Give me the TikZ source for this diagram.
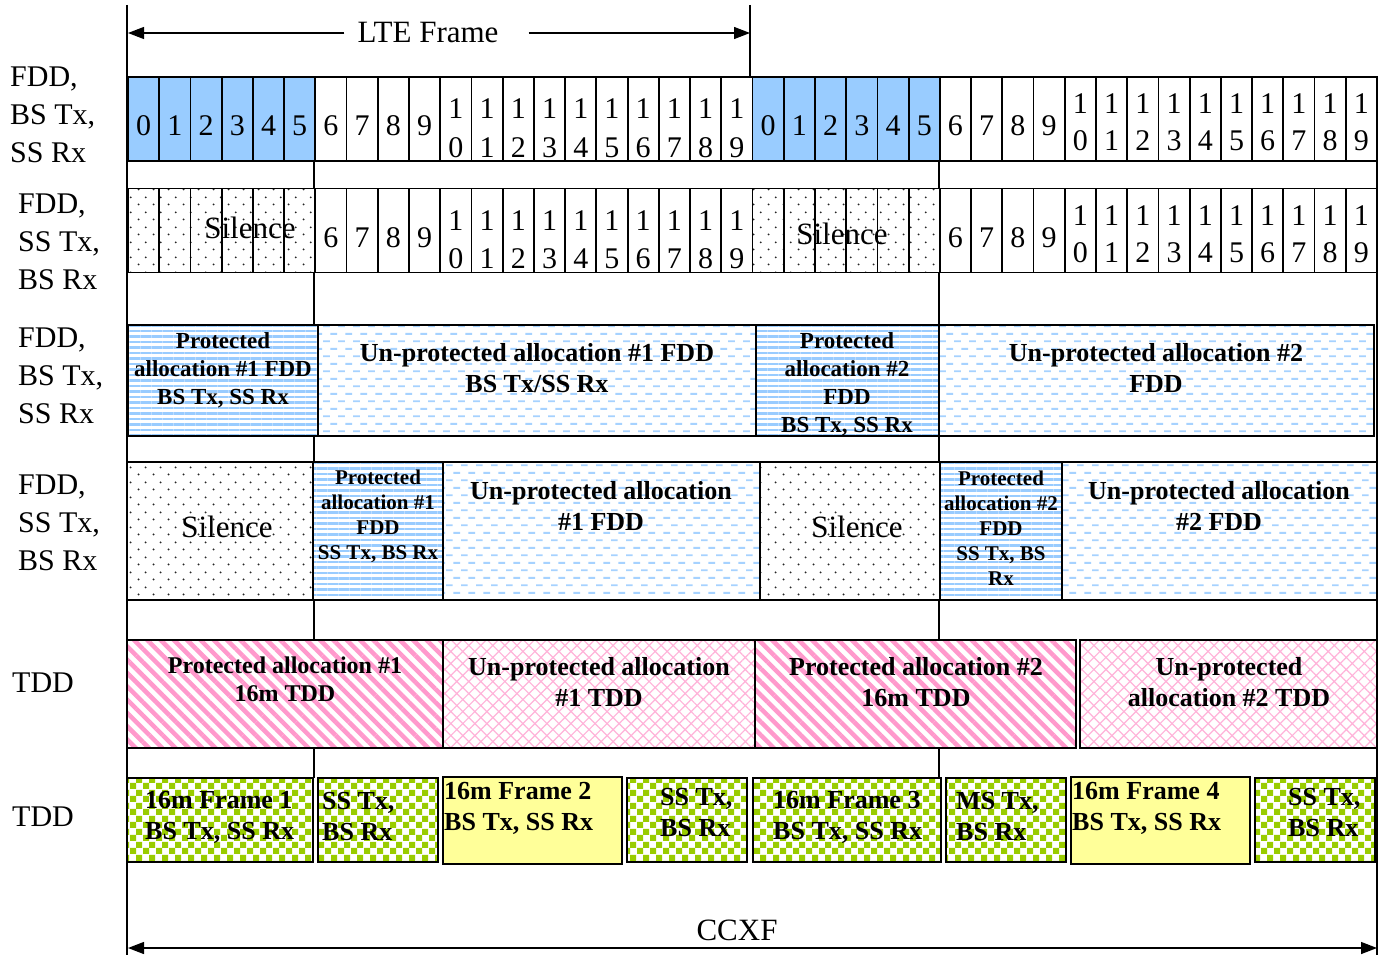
\documentclass[tikz,border=0pt]{standalone}
\usepackage{fontspec}
\setmainfont{Liberation Serif}
\usetikzlibrary{patterns.meta,arrows.meta}
\definecolor{cellblue}{HTML}{99CCFF}
\definecolor{stripeblue}{HTML}{99CCFF}
\definecolor{dashblue}{HTML}{A6D2FF}
\definecolor{pinkS}{HTML}{FF99CC}
\definecolor{pinkH}{HTML}{FFB3D9}
\definecolor{chkgreen}{HTML}{99CC00}
\definecolor{yel}{HTML}{FFFF99}
\pgfdeclarepattern{
  name=BlueDash,
  type=uncolored,
  bottom left={\pgfpoint{0pt}{0pt}},
  top right={\pgfpoint{15.4pt}{15.4pt}},
  tile size={\pgfpoint{15.4pt}{15.4pt}},
  code={
    \pgfsetlinewidth{2pt}
    \pgfpathmoveto{\pgfpoint{0pt}{3.85pt}}
    \pgfpathlineto{\pgfpoint{7pt}{3.85pt}}
    \pgfpathmoveto{\pgfpoint{7.7pt}{11.55pt}}
    \pgfpathlineto{\pgfpoint{14.7pt}{11.55pt}}
    \pgfusepath{stroke}
  }
}
\pgfdeclarepattern{
  name=GreenCheck,
  type=uncolored,
  bottom left={\pgfpoint{0pt}{0pt}},
  top right={\pgfpoint{13pt}{13pt}},
  tile size={\pgfpoint{13pt}{13pt}},
  code={
    \pgfpathrectangle{\pgfpoint{0pt}{0pt}}{\pgfpoint{6.5pt}{6.5pt}}
    \pgfpathrectangle{\pgfpoint{6.5pt}{6.5pt}}{\pgfpoint{6.5pt}{6.5pt}}
    \pgfusepath{fill}
  }
}
\pgfdeclarepattern{
  name=SilDots,
  type=uncolored,
  bottom left={\pgfpoint{0pt}{0pt}},
  top right={\pgfpoint{15pt}{15pt}},
  tile size={\pgfpoint{15pt}{15pt}},
  code={
    \pgfpathcircle{\pgfpoint{3.75pt}{3.75pt}}{1.1pt}
    \pgfpathcircle{\pgfpoint{11.25pt}{11.25pt}}{1.1pt}
    \pgfusepath{fill}
  }
}
\begin{document}
\begin{tikzpicture}[x=1pt,y=-1pt,
  thinln/.style={line width=1.2pt},
  cell/.style={draw, line width=1.8pt, minimum width=31.225pt, minimum height=84pt, inner sep=0pt, outer sep=0pt},
  blk/.style={draw, line width=2.2pt, inner sep=0pt, outer sep=0pt},
  bluefill/.style={fill=cellblue},
  sdots/.style={preaction={fill=white}, pattern=SilDots, pattern color=black!85},
  bstripe/.style={preaction={fill=white}, pattern={Lines[distance=5.5pt, line width=2.7pt]}, pattern color=stripeblue},
  bdash/.style={preaction={fill=white}, pattern=BlueDash, pattern color=dashblue},
  pstripe/.style={preaction={fill=white}, pattern={Lines[angle=-45, distance=9.4pt, line width=4.5pt]}, pattern color=pinkS},
  phatch/.style={preaction={fill=white}, pattern={Hatch[angle=45, distance=8.5pt, line width=1.2pt]}, pattern color=pinkH},
  gcheck/.style={preaction={fill=white}, pattern=GreenCheck, pattern color=chkgreen},
  yfill/.style={fill=yel},
  lbl/.style={font=\fontsize{30}{38}\selectfont, align=left, anchor=west, inner sep=0pt},
  dig/.style={font=\fontsize{30}{36}\selectfont, inner sep=0pt, anchor=base},
  sil/.style={font=\fontsize{31}{36}\selectfont, inner sep=0pt},
  big/.style={font=\fontsize{31}{36}\selectfont, inner sep=0pt},
  bta/.style={font=\bfseries\fontsize{21}{25}\selectfont, align=center, inner sep=0pt},
  btb/.style={font=\bfseries\fontsize{23}{28}\selectfont, align=center, inner sep=0pt},
  btc/.style={font=\bfseries\fontsize{24}{28}\selectfont, align=center, inner sep=0pt},
  btd/.style={font=\bfseries\fontsize{26}{30.5}\selectfont, align=center, inner sep=0pt},
  bte/.style={font=\bfseries\fontsize{26}{31}\selectfont, align=left, anchor=west, inner sep=0pt},
  arr/.style={-{Triangle[length=16pt,width=12pt]}, line width=1.3pt},
  darr/.style={{Triangle[length=16pt,width=12pt]}-{Triangle[length=16pt,width=12pt]}, line width=1.3pt}
]
\useasboundingbox (0,0) rectangle (1381,958);

% guide lines
\coordinate (L0) at (127,5);   \coordinate (L1) at (127,955);
\coordinate (F0) at (750,5);   \coordinate (F1) at (750,77);
\coordinate (A0) at (314,161); \coordinate (A1) at (314,778);
\coordinate (B0) at (939,161); \coordinate (B1) at (939,778);
\coordinate (R0) at (1377,77); \coordinate (R1) at (1377,955);
\draw[thinln] (L0) -- (L1);
\draw[thinln] (F0) -- (F1);
\draw[thinln] (A0) -- (A1);
\draw[thinln] (B0) -- (B1);
\draw[thinln] (R0) -- (R1);

% LTE frame arrow
\node[big] (lte) at (428,33) {LTE Frame};
\coordinate (ltl) at (128,33);
\coordinate (ltr) at (750,33);
\draw[arr] ([xshift=-13pt]lte.west) -- (ltl);
\draw[arr] ([xshift=30pt]lte.east) -- (ltr);

% row labels
\node[lbl] (lab1) at (10,115) {FDD,\\BS Tx,\\SS Rx};
\node[lbl] (lab2) at (18,242) {FDD,\\SS Tx,\\BS Rx};
\node[lbl] (lab3) at (18,376) {FDD,\\BS Tx,\\SS Rx};
\node[lbl] (lab4) at (18,523) {FDD,\\SS Tx,\\BS Rx};
\node[lbl] (lab5) at (12,683) {TDD};
\node[lbl] (lab6) at (12,817) {TDD};

% row 1 and row 2 cells
\foreach \f in {0,1} {
  \foreach \i in {0,...,19} {
    \pgfmathsetmacro\xc{128+31.225*(20*\f+\i+0.5)}
    \ifnum\i<6
      \node[cell, bluefill] (ra-\f-\i) at (\xc,119) {};
      \node[cell, sdots] (rb-\f-\i) at (\xc,230.5) {};
      \node[dig] (da-\f-\i) at (\xc,135) {\i};
    \else
      \node[cell] (ra-\f-\i) at (\xc,119) {};
      \node[cell] (rb-\f-\i) at (\xc,230.5) {};
      \ifnum\i<10
        \node[dig] (da-\f-\i) at (\xc,135) {\i};
        \node[dig] (db-\f-\i) at (\xc,247) {\i};
      \else
        \pgfmathtruncatemacro\j{\i-10}
        \ifnum\f=0
          \node[dig] (da-\f-\i) at (\xc,118) {1};
          \node[dig] (dc-\f-\i) at (\xc,157) {\j};
          \node[dig] (db-\f-\i) at (\xc,230) {1};
          \node[dig] (dd-\f-\i) at (\xc,268) {\j};
        \else
          \node[dig] (da-\f-\i) at (\xc,113) {1};
          \node[dig] (dc-\f-\i) at (\xc,150) {\j};
          \node[dig] (db-\f-\i) at (\xc,225) {1};
          \node[dig] (dd-\f-\i) at (\xc,262) {\j};
        \fi
      \fi
    \fi
  }
}
\node[sil] (sil1) at (250,228) {Silence};
\node[sil] (sil2) at (842,234) {Silence};

% row 3
\node[blk, bstripe, minimum width=190pt, minimum height=111pt] (pA) at (223,380.5) {};
\node[blk, bdash,   minimum width=438pt, minimum height=111pt] (pB) at (537,380.5) {};
\node[blk, bstripe, minimum width=183pt, minimum height=111pt] (pC) at (847.5,380.5) {};
\node[blk, bdash,   minimum width=435pt, minimum height=111pt] (pD) at (1156.5,380.5) {};
\node[btb] (tA) at (223,370) {Protected\\allocation \#1 FDD\\BS Tx, SS Rx};
\node[btd] (tB) at (537,368) {Un-protected allocation \#1 FDD\\BS Tx/SS Rx};
\node[btb] (tC) at (847,384) {Protected\\allocation \#2\\FDD\\BS Tx, SS Rx};
\node[btd] (tD) at (1156,368) {Un-protected allocation \#2\\FDD};

% row 4
\node[blk, sdots,   minimum width=186pt, minimum height=138pt] (pE) at (220,531) {};
\node[blk, bstripe, minimum width=130pt, minimum height=138pt] (pF) at (378,531) {};
\node[blk, bdash,   minimum width=317pt, minimum height=138pt] (pG) at (601.5,531) {};
\node[blk, sdots,   minimum width=180pt, minimum height=138pt] (pH) at (850,531) {};
\node[blk, bstripe, minimum width=122pt, minimum height=138pt] (pI) at (1001,531) {};
\node[blk, bdash,   minimum width=315pt, minimum height=138pt] (pJ) at (1219.5,531) {};
\node[sil] (tE) at (227,527) {Silence};
\node[bta] (tF) at (378,516) {Protected\\allocation \#1\\FDD\\SS Tx, BS Rx};
\node[btd] (tG) at (601,506) {Un-protected allocation\\\#1 FDD};
\node[sil] (tH) at (857,527) {Silence};
\node[bta] (tI) at (1001,528) {Protected\\allocation \#2\\FDD\\SS Tx, BS\\Rx};
\node[btd] (tJ) at (1219,506) {Un-protected allocation\\\#2 FDD};

% row 5
\node[blk, pstripe, minimum width=316pt, minimum height=108pt] (pK) at (285,694) {};
\node[blk, phatch,  minimum width=312pt, minimum height=108pt] (pL) at (599,694) {};
\node[blk, pstripe, minimum width=321pt, minimum height=108pt] (pM) at (915.5,694) {};
\node[blk, phatch,  minimum width=297pt, minimum height=108pt] (pN) at (1228.5,694) {};
\node[btc] (tK) at (285,679) {Protected allocation \#1\\16m TDD};
\node[btd] (tL) at (599,682) {Un-protected allocation\\\#1 TDD};
\node[btd] (tM) at (916,682) {Protected allocation \#2\\16m TDD};
\node[btd] (tN) at (1229,682) {Un-protected\\allocation \#2 TDD};

% row 6
\node[blk, gcheck, minimum width=186pt, minimum height=84pt] (pO) at (220,820) {};
\node[blk, gcheck, minimum width=120pt, minimum height=84pt] (pP) at (378,820) {};
\node[blk, yfill,  minimum width=179pt, minimum height=87pt] (pQ) at (532.5,820.5) {};
\node[blk, gcheck, minimum width=120pt, minimum height=84pt] (pR) at (687,820) {};
\node[blk, gcheck, minimum width=188pt, minimum height=84pt] (pS) at (847,820) {};
\node[blk, gcheck, minimum width=120pt, minimum height=84pt] (pT) at (1006,820) {};
\node[blk, yfill,  minimum width=179pt, minimum height=87pt] (pU) at (1160.5,820.5) {};
\node[blk, gcheck, minimum width=120pt, minimum height=84pt] (pV) at (1315,820) {};
\node[bte] (tO) at (145,817) {16m Frame 1\\BS Tx, SS Rx};
\node[bte] (tP) at (322,817) {SS Tx,\\BS Rx};
\node[bte] (tQ) at (444,808) {16m Frame 2\\BS Tx, SS Rx};
\node[bte] (tR) at (660,813) {SS Tx,\\BS Rx};
\node[bte] (tS) at (773,817) {16m Frame 3\\BS Tx, SS Rx};
\node[bte] (tT) at (956,817) {MS Tx,\\BS Rx};
\node[bte] (tU) at (1072,808) {16m Frame 4\\BS Tx, SS Rx};
\node[bte] (tV) at (1288,813) {SS Tx,\\BS Rx};

% CCXF arrow
\node[big] (ccxf) at (737,930) {CCXF};
\coordinate (cl) at (128,948);
\coordinate (cr) at (1377,948);
\draw[darr] (cl) -- (cr);
\end{tikzpicture}
\end{document}
